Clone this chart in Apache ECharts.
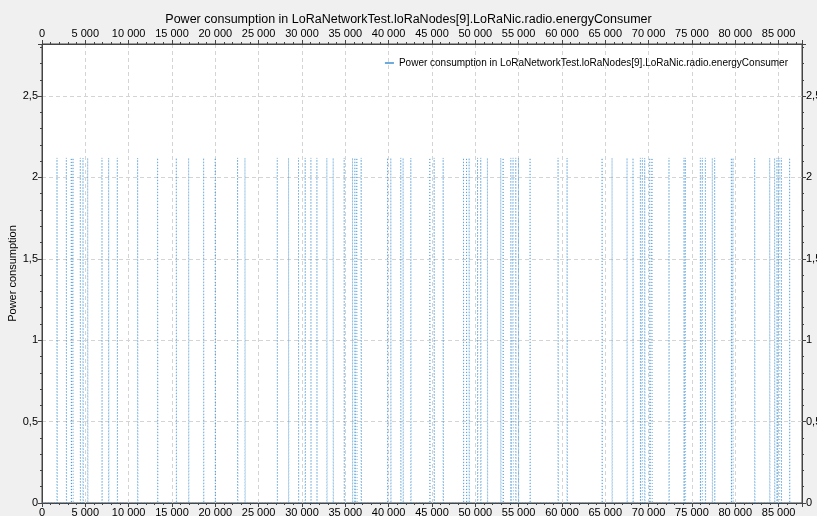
<!DOCTYPE html>
<html>
<head>
<meta charset="utf-8">
<script src="https://cdn.jsdelivr.net/npm/echarts@6/dist/echarts.min.js"></script>
<style>
html,body{margin:0;padding:0;background:#f0f0f0;}
#chart{width:817px;height:516px;}
</style>
</head>
<body>
<div id="chart"></div>
<script>
var titleText = 'Power consumption in LoRaNetworkTest.loRaNodes[9].LoRaNic.radio.energyConsumer';
var seriesName = 'Power consumption in LoRaNetworkTest.loRaNodes[9].LoRaNic.radio.energyConsumer';
var yAxisName = 'Power consumption';
// time (s) of each transmission spike
var spikeTimes = [1730, 2810, 3380, 3580, 4420, 4730, 5270, 6920, 7690, 8690, 11035, 13340, 15500, 16920, 18650, 19990, 22570, 23420, 27150, 28450,
  29600, 30370, 31030, 31720, 32870, 33600, 34870, 35830, 36100, 36330, 36830, 39870, 40250, 41400, 41670, 42560, 44750, 45250, 46290,
  48640, 48990, 49290, 50260, 50630, 51400, 52940, 53210, 54100, 54360, 54670, 54980, 56320,
  59550, 60590, 64630, 65780, 67510, 68200, 69050, 69280, 69550, 70130, 70390, 72350, 74080, 74240, 75970, 76200, 76550, 77350, 77620,
  79550, 79740, 82240, 83970, 84540, 84810, 85040, 85310, 86270];
// power level during each spike
var spikeLevels = spikeTimes.map(function(){ return 2.12; });
var baseLevel = 0;
var spikeDuration = 30;
var xMin = 0, xMax = 87700, xInterval = 5000;
var yMin = 0, yMax = 2.82, yInterval = 0.5;

var data = [[0, baseLevel]];
spikeTimes.forEach(function(t, i){
  data.push([t, baseLevel], [t, spikeLevels[i]], [t + spikeDuration, spikeLevels[i]], [t + spikeDuration, baseLevel]);
});
data.push([xMax, baseLevel]);

function fmtX(v){ return String(v).replace(/\B(?=(\d{3})+(?!\d))/g, ' '); }
function fmtY(v){ return String(Math.round(v*10)/10).replace('.', ','); }

var font = 'Liberation Sans, Arial, sans-serif';
var lab = {color:'#000', fontSize:11, fontFamily:font};
function xAx(pos){
  return {
    type:'value', position:pos, min:xMin, max:xMax, interval:xInterval,
    axisLine:{show:true, onZero:false, lineStyle:{color:'#444', width:1}},
    axisTick:{show:true, length:4, lineStyle:{color:'#444'}},
    minorTick:{show:true, splitNumber:5, length:2, lineStyle:{color:'#444'}},
    splitLine:{show: pos==='bottom', lineStyle:{color:'#d4d4d4', type:[4,3]}},
    axisLabel:Object.assign({formatter:fmtX, showMaxLabel:false, margin: pos==='bottom'?4:5}, lab)
  };
}
function yAx(pos){
  return {
    type:'value', position:pos, min:yMin, max:yMax, interval:yInterval,
    axisLine:{show:true, onZero:false, lineStyle:{color:'#444', width:1}},
    axisTick:{show:true, length:4, lineStyle:{color:'#444'}},
    minorTick:{show:true, splitNumber:5, length:2, lineStyle:{color:'#444'}},
    splitLine:{show: pos==='left', lineStyle:{color:'#d4d4d4', type:[4,3]}},
    axisLabel:Object.assign({formatter:fmtY, showMaxLabel:false, margin:4}, lab),
    name: pos==='left' ? yAxisName : '',
    nameLocation:'middle', nameGap:24, nameRotate:90, nameMoveOverlap:false,
    nameTextStyle:{color:'#000', fontSize:11, fontFamily:font}
  };
}

var chart = echarts.init(document.getElementById('chart'), null, {renderer:'canvas'});
chart.setOption({
  animation:false,
  backgroundColor:'#f0f0f0',
  title:{text:titleText, left:'center', top:8, textStyle:{fontSize:12.5, fontWeight:'normal', color:'#000', fontFamily:font}},
  grid:{left:42, right:15, top:44, bottom:13, outerBoundsMode:'none', containLabel:false, show:true, backgroundColor:'#fff', borderColor:'#444', borderWidth:1},
  legend:{show:true, right:24, top:53, icon:'rect', itemWidth:9, itemHeight:1.5, itemGap:3,
    textStyle:{fontSize:10, color:'#000', fontFamily:font}, data:[seriesName]},
  xAxis:[xAx('bottom'), xAx('top')],
  yAxis:[yAx('left'), yAx('right')],
  series:[{
    name:seriesName, type:'line', xAxisIndex:0, yAxisIndex:0, data:data,
    symbol:'none', showSymbol:false,
    lineStyle:{color:'#3b8fd1', width:1, type:[1,2], opacity:0.7},
    itemStyle:{color:'#3b8fd1'}
  }]
});
</script>
</body>
</html>
